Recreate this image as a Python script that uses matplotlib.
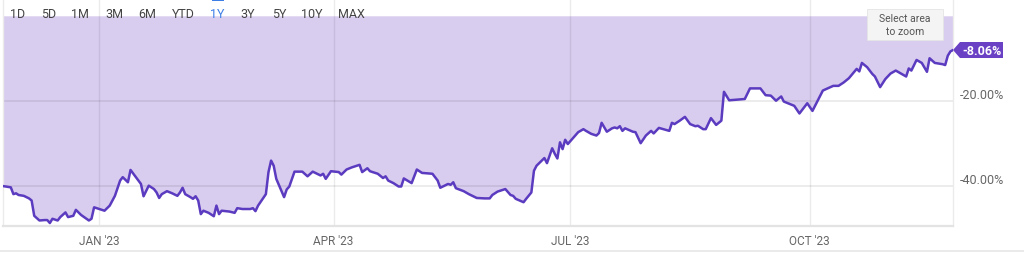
import matplotlib
matplotlib.use("Agg")
import matplotlib.pyplot as plt
import matplotlib.dates as mdates
import matplotlib.transforms as mtransforms
from matplotlib.patches import Polygon, Rectangle, FancyBboxPatch
from matplotlib.lines import Line2D
import numpy as np
import pandas as pd

plt.rcParams['font.family'] = ['Roboto', 'DejaVu Sans']

# days relative to 2023-01-01, 1Y price return in %
days = [-37, -34, -33, -32, -31, -29, -27, -26, -25, -23, -21, -20, -19, -18, -16, -15,
        -13, -12, -10, -9, -7, -4, -3, -2, 0, 2, 4, 6, 8, 9, 11, 12,
        15, 16, 17, 19, 21, 22, 23, 24, 26, 28, 30, 31, 32, 33, 35, 36, 37, 38, 39,
        40, 42, 44, 45, 46, 47, 50, 52, 53, 55, 58,
        59, 60, 61, 64, 65, 66, 67, 68, 71, 72, 73, 75, 78, 80, 82, 85, 86, 87, 89,
        92, 93, 95, 97, 100,
        101, 103, 104, 106, 107, 109, 110, 111, 113, 115, 116, 117, 120, 122, 124,
        128, 130, 131, 134, 135, 136, 137, 140, 142, 145, 148, 150,
        151, 153, 156, 158, 159, 160, 163, 164, 166, 167, 168, 171, 172, 174, 175,
        176, 177, 178, 179, 180, 182, 184, 186, 187, 189, 191, 192, 193, 195,
        197, 198, 199, 200, 201, 202, 205, 206, 208, 210, 212, 213, 215, 219, 220,
        221, 223, 225, 227, 229, 230, 232, 233, 235, 237, 239, 240, 242, 244, 248,
        250, 254, 256, 258, 260, 262, 263, 267, 269, 272, 274, 276, 278, 282, 284,
        286, 288, 291, 292, 293, 295, 297, 298, 300, 302, 304, 306, 308, 310, 311,
        312, 314, 316, 318, 319, 321, 324, 325, 326, 327, 328]
pct = [-40.1, -40.4, -42.0, -41.8, -42.2, -42.4, -43.0, -43.5, -47.1, -48.2, -48.1, -48.1,
       -48.8, -47.8, -48.2, -47.4, -46.3, -47.4, -47.1, -45.7, -46.9, -48.2, -47.8, -45.1,
       -45.5, -45.9, -44.7, -42.4, -38.8, -38.0, -39.2, -36.3,
       -38.8, -39.6, -42.5, -40.0, -40.8, -41.6, -42.9, -42.0, -41.3, -41.8, -42.4, -41.6,
       -40.5, -42.0, -42.7, -43.1, -42.5, -43.5, -46.7,
       -45.9, -46.4, -47.2, -44.7, -46.7, -45.9, -46.1, -46.4, -45.3, -45.5, -45.5,
       -45.3, -46.0, -44.7, -42.0, -36.8, -34.1, -35.3, -38.4, -42.7, -40.9, -40.2, -36.7,
       -36.7, -37.8, -36.7, -37.6, -37.2, -38.4, -36.6,
       -36.8, -37.4, -36.2, -35.7, -35.1,
       -36.8, -35.9, -36.6, -37.0, -37.2, -38.2, -37.8, -38.8, -39.4, -40.2, -40.2, -38.3,
       -39.4, -36.2, -37.0,
       -37.2, -38.8, -40.5, -39.6, -39.8, -39.2, -40.6, -41.3, -42.0, -42.9, -43.0, -43.0,
       -42.2, -41.4, -40.8, -42.2, -42.4, -43.1, -43.9, -43.1, -41.6, -36.5, -35.3, -33.5,
       -34.7, -31.2, -32.5,
       -33.6, -29.8, -31.4, -29.2, -30.2, -28.8, -27.4, -26.7, -27.1, -27.8, -28.2, -27.6,
       -25.2, -27.3,
       -26.5, -26.3, -26.5, -26.0, -27.1, -26.5, -27.3, -27.4, -30.0, -28.2, -27.1, -27.7,
       -26.4, -27.1, -25.2,
       -25.5, -24.7, -23.8, -25.5, -26.0, -25.9, -26.7, -26.7, -24.1, -25.7, -24.7, -17.9,
       -19.9, -19.8, -19.6,
       -17.1, -17.1, -18.7, -18.8, -20.0, -19.0, -20.2, -21.2, -23.0, -20.6, -22.4, -20.0,
       -17.6, -16.5, -16.5,
       -15.7, -14.7, -12.5, -13.1, -11.1, -12.1, -13.7, -14.3, -16.8, -14.9, -13.6, -12.9,
       -13.6, -14.3, -12.4,
       -12.9, -10.4, -11.1, -13.2, -10.0, -11.1, -11.4, -11.6, -9.4, -8.4, -8.06]

month_ticks = ["2023-01-01", "2023-04-01", "2023-07-01", "2023-10-01"]
month_labels = ["JAN '23", "APR '23", "JUL '23", "OCT '23"]
y_grid = [-20, -40]
y_labels = ["-20.00%", "-40.00%"]
ranges = ["1D", "5D", "1M", "3M", "6M", "YTD", "1Y", "3Y", "5Y", "10Y", "MAX"]
range_x = [18, 49, 80, 114, 147, 183, 217, 248, 279, 312, 351]
last_label = "-8.06%"

LINE = '#5b3bbf'
FILL = '#d9cdef'
TAG = '#6a40c4'
TXT = '#666666'

dates = pd.Timestamp("2023-01-01") + pd.to_timedelta(days, unit="D")

W, H = 1024, 255
fig = plt.figure(figsize=(W / 100, H / 100), dpi=100)
ax = fig.add_axes([3 / W, 1 - 227 / H, 950 / W, 227 / H])

ax.fill_between(dates, pct, 0, color=FILL, lw=0, zorder=1)
ax.plot(dates, pct, color=LINE, lw=1.8, solid_joinstyle='round', zorder=4)

ax.set_xlim(dates[0], dates[-1])
ax.set_ylim(-49.5, 3.95)

for v in y_grid:
    ax.axhline(v, color='black', alpha=0.09, lw=1.2, zorder=2)
for d in month_ticks:
    ax.axvline(pd.Timestamp(d), color='black', alpha=0.08, lw=1.0, zorder=2)

ax.set_yticks([])
ax.set_xticks(pd.to_datetime(month_ticks))
ax.set_xticklabels(month_labels, fontsize=8.5, color=TXT)
ax.tick_params(axis='x', length=0, pad=6)

ax.spines['top'].set_visible(False)
for s in ['left', 'right']:
    ax.spines[s].set_color('#ebebeb')
    ax.spines[s].set_linewidth(1.0)
ax.spines['bottom'].set_color('#e3e3e3')
ax.spines['bottom'].set_linewidth(1.6)
ax.patch.set_alpha(0)

for v, lab in zip(y_grid, y_labels):
    ax.text(1.0075, v + 1.35, lab, transform=ax.get_yaxis_transform(),
            ha='left', va='center', fontsize=9, color=TXT, clip_on=False)

# last value tag
xl = mdates.date2num(dates[-1])
trans = fig.dpi_scale_trans + mtransforms.ScaledTranslation(xl, pct[-1], ax.transData)
tag = np.array([[0, 0], [7, 8], [50, 8], [50, -8], [7, -8]]) / 100
ax.add_patch(Polygon(tag, closed=True, transform=trans, fc=TAG, ec='none',
                     clip_on=False, zorder=6))
ax.annotate(last_label, xy=(dates[-1], pct[-1]), xytext=(29 * 0.72, 0),
            textcoords='offset points', ha='center', va='center',
            color='white', fontsize=9, fontweight='bold', zorder=7,
            annotation_clip=False)

# range buttons
for lab, x in zip(ranges, range_x):
    fig.text(x / W, 1 - 15 / H, lab, ha='center', va='center', fontsize=9,
             color='#3d7de6' if lab == '1Y' else '#444444')
fig.add_artist(Rectangle((212 / W, 1 - 2 / H), 12 / W, 2 / H, transform=fig.transFigure,
                         fc='#3d7de6', ec='none'))

# zoom hint box
fig.add_artist(FancyBboxPatch((867 / W, 1 - 41 / H), 76 / W, 31 / H,
                              boxstyle='square,pad=0', transform=fig.transFigure,
                              fc='#f4f4f4', ec='#e4e4e4', lw=0.6, zorder=8))
fig.text(905 / W, 1 - 25.5 / H, "Select area\nto zoom", ha='center', va='center',
         fontsize=7.5, color='#555555', linespacing=1.35, zorder=9)

fig.add_artist(Line2D([0, 1], [1 - 252 / H] * 2, transform=fig.transFigure,
                      color='#e6e6e6', lw=1.2))

fig.savefig("out.png", dpi=100)
